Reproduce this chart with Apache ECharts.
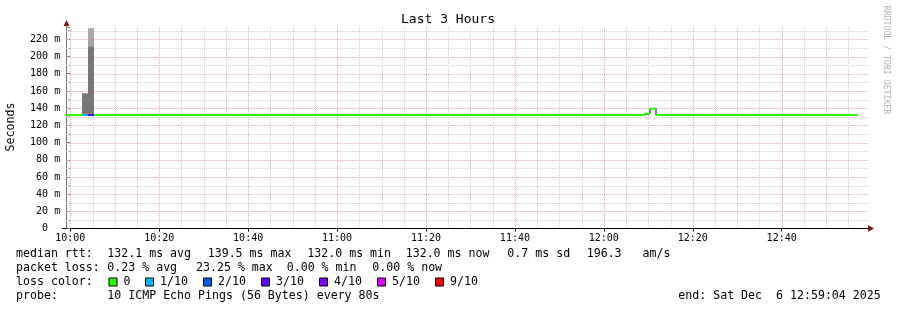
<!DOCTYPE html>
<html><head><meta charset="utf-8">
<script src="https://cdn.jsdelivr.net/npm/echarts@6/dist/echarts.min.js"></script>
<style>html,body{margin:0;padding:0;background:#fff}#c{width:897px;height:310px}</style>
</head><body><div id="c"></div>
<script>
// ---- data (x in minutes relative to 10:00) ----
const windowStart = -0.933;   // 09:59:04
const windowEnd = 179.067;    // 12:59:04
const xTickMinutes = [0, 20, 40, 60, 80, 100, 120, 140, 160];
const xTickLabels = ['10:00', '10:20', '10:40', '11:00', '11:20', '11:40', '12:00', '12:20', '12:40'];
const yTickLabels = ['0  ', '20 m', '40 m', '60 m', '80 m', '100 m', '120 m', '140 m', '160 m', '180 m', '200 m', '220 m'];

// median rtt (ms), step changes: value holds from time until next time
const medianTimes  = [-0.933, 2.63, 3.98, 5.33, 129.04, 130.39, 131.74, 177.1];
const medianValues = [132.0, 132.0, 132.0, 132.0, 133.5, 139.5, 132.0, 132.0];
const medianLoss   = [0, 1, 3, 0, 0, 0, 0, 0]; // index into lossLabels

// smoke bands
const smokeStart = [2.63, 3.98, 3.98];
const smokeEnd   = [3.98, 5.33, 5.33];
const smokeLow   = [132.0, 132.0, 212.0];
const smokeHigh  = [157.3, 212.0, 233.0];
const smokeLevel = [0, 0, 1];

const lossLabels = ['0', '1/10', '2/10', '3/10', '4/10', '5/10', '9/10'];
const lossColors = ['#26ff00', '#00b8ff', '#0059ff', '#5e00ff', '#7e00ff', '#dd00ff', '#ff0000'];
const smokeColors = ['#787878', '#a8a8a8'];

const MONO = '"DejaVu Sans Mono", monospace';
const chart = echarts.init(document.getElementById('c'), null, {renderer: 'canvas'});

// grid line positions (not data)
const vGrid = [], hGrid = [];
for (let t = 0; t < windowEnd; t += 5) vGrid.push([t, xTickMinutes.indexOf(t) >= 0 ? 1 : 0]);
for (let v = 10; v <= 230; v += 10) hGrid.push([v, v % 20 === 0 ? 1 : 0]);
const gridColors = ['#cdcdcd', '#f2a6a6'];

function gridSeries(data, vertical) {
  return {
    type: 'custom', z: 1, silent: true, animation: false, data: data,
    encode: vertical ? {x: 0} : {y: 0},
    renderItem: (params, api) => {
      const cs = params.coordSys;
      const style = {stroke: gridColors[api.value(1)], lineWidth: 1, lineDash: [1, 1]};
      if (vertical) {
        const x = Math.round(api.coord([api.value(0), 0])[0]) + 0.5;
        return {type: 'line', z2: api.value(1), shape: {x1: x, y1: cs.y, x2: x, y2: cs.y + cs.height}, style};
      }
      const y = Math.round(api.coord([0, api.value(0)])[1]) + 0.5;
      return {type: 'line', z2: api.value(1), shape: {x1: cs.x, y1: y, x2: cs.x + cs.width + 2, y2: y}, style};
    }
  };
}

const smokeData = smokeStart.map((s, i) => [s, smokeEnd[i], smokeLow[i], smokeHigh[i], smokeLevel[i]]);
const segData = medianTimes.slice(0, -1).map((t, i) => [t, medianTimes[i + 1], medianValues[i], medianLoss[i]]);
const stepData = medianTimes.map((t, i) => [t, medianValues[i]]);

const graphics = [];
function txt(x, y, s, size, color, extra) {
  graphics.push(Object.assign({
    type: 'text', x: x, y: y, silent: true,
    style: {text: s, font: size + 'px ' + MONO, fill: color || '#000',
            align: 'left', verticalAlign: 'middle', textAlign: 'left', textVerticalAlign: 'middle'}
  }, extra || {}));
}
// legend lines
const L = 11.6;
txt(16, 254.3, 'median rtt:', L); txt(107.3, 254.3, '132.1 ms avg', L); txt(207.7, 254.3, '139.5 ms max', L);
txt(307.3, 254.3, '132.0 ms min', L); txt(405.7, 254.3, '132.0 ms now', L); txt(507.3, 254.3, '0.7 ms sd', L);
txt(586.7, 254.3, '196.3   am/s', L);
txt(16, 268.3, 'packet loss:', L); txt(107.3, 268.3, '0.23 % avg', L); txt(196.0, 268.3, '23.25 % max', L);
txt(286.7, 268.3, '0.00 % min', L); txt(372.3, 268.3, '0.00 % now', L);
txt(16, 282.3, 'loss color:', L);
const boxX = [109, 145.5, 203.5, 261.5, 319.5, 377.5, 435.5];
lossLabels.forEach((lab, i) => {
  graphics.push({type: 'rect', silent: true, shape: {x: boxX[i], y: 278, width: 8, height: 8},
    style: {fill: lossColors[i], stroke: '#000', lineWidth: 1}});
  txt(boxX[i] + 14.5, 282.3, lab, L);
});
txt(16, 296.3, 'probe:', L); txt(107.3, 296.3, '10 ICMP Echo Pings (56 Bytes) every 80s', L);
txt(678.3, 296.3, 'end: Sat Dec  6 12:59:04 2025', L);
// title, y name, watermark
graphics.push({type: 'text', x: 448, y: 19.5, silent: true,
  style: {text: 'Last 3 Hours', font: '13px ' + MONO, fill: '#000', align: 'center', verticalAlign: 'middle', textAlign: 'center', textVerticalAlign: 'middle'}});
graphics.push({type: 'text', x: 11, y: 127, rotation: Math.PI / 2, silent: true,
  style: {text: 'Seconds', font: '11.6px ' + MONO, fill: '#000', align: 'center', verticalAlign: 'middle', textAlign: 'center', textVerticalAlign: 'middle'}});
graphics.push({type: 'text', x: 886.5, y: 60, rotation: -Math.PI / 2, silent: true,
  style: {text: 'RRDTOOL / TOBI OETIKER', font: '8.2px ' + MONO, fill: '#b4b4b4', align: 'center', verticalAlign: 'middle', textAlign: 'center', textVerticalAlign: 'middle'}});
// axis lines / arrows
graphics.push({type: 'line', silent: true, shape: {x1: 62, y1: 228.5, x2: 869, y2: 228.5}, style: {stroke: '#000', lineWidth: 1}});
graphics.push({type: 'polygon', silent: true, shape: {points: [[868, 225], [874, 228.5], [868, 232]]}, style: {fill: '#7f1a1a'}});
graphics.push({type: 'line', silent: true, shape: {x1: 66.5, y1: 228.5, x2: 66.5, y2: 24}, style: {stroke: '#707070', lineWidth: 1}});
graphics.push({type: 'polygon', silent: true, shape: {points: [[63.5, 26], [66.5, 20], [69.5, 26]]}, style: {fill: '#7f1a1a'}});

const option = {
  animation: false,
  backgroundColor: '#ffffff',
  grid: {left: 66.15, right: 30.55, top: 27, bottom: 81.4, containLabel: false},
  xAxis: {
    type: 'value', min: windowStart, max: windowEnd,
    axisLine: {show: false},
    splitLine: {show: false},
    axisTick: {show: true, length: 3, customValues: xTickMinutes, lineStyle: {color: '#000'}},
    axisLabel: {customValues: xTickMinutes, margin: 5, fontFamily: MONO, fontSize: 10, color: '#000',
      formatter: v => { const i = xTickMinutes.indexOf(Math.round(v)); return i >= 0 ? xTickLabels[i] : ''; }}
  },
  yAxis: {
    type: 'value', min: 0, max: 234.3, interval: 20,
    axisLine: {show: false},
    splitLine: {show: false},
    axisTick: {show: true, length: 3, lineStyle: {color: '#777'}},
    minorTick: {show: true, splitNumber: 2, length: 2, lineStyle: {color: '#999'}},
    axisLabel: {margin: 6, fontFamily: MONO, fontSize: 10, color: '#000', showMaxLabel: false,
      formatter: v => { const i = Math.round(v / 20); return (Math.abs(v - i * 20) < 1e-6 && yTickLabels[i]) ? yTickLabels[i] : ''; }}
  },
  graphic: {elements: graphics},
  series: [
    gridSeries(hGrid, false),
    gridSeries(vGrid, true),
    {
      type: 'custom', z: 3, silent: true, data: smokeData,
      encode: {x: [0, 1], y: [2, 3]},
      renderItem: (params, api) => {
        const p0 = api.coord([api.value(0), api.value(3)]);
        const p1 = api.coord([api.value(1), api.value(2)]);
        return {type: 'rect', shape: {x: p0[0], y: p0[1], width: p1[0] - p0[0], height: p1[1] - p0[1]},
                style: {fill: smokeColors[api.value(4)]}};
      }
    },
    {
      type: 'line', z: 4, silent: true, data: stepData, step: 'end', symbol: 'none',
      lineStyle: {color: '#000', width: 1}
    },
    {
      type: 'custom', z: 5, silent: true, data: segData,
      encode: {x: [0, 1], y: 2},
      renderItem: (params, api) => {
        const a = api.coord([api.value(0), api.value(2)]);
        const b = api.coord([api.value(1), api.value(2)]);
        return {type: 'line', shape: {x1: a[0], y1: a[1], x2: b[0], y2: b[1]},
                style: {stroke: lossColors[api.value(3)], lineWidth: 2}};
      }
    }
  ]
};
chart.setOption(option);
</script>
</body></html>
